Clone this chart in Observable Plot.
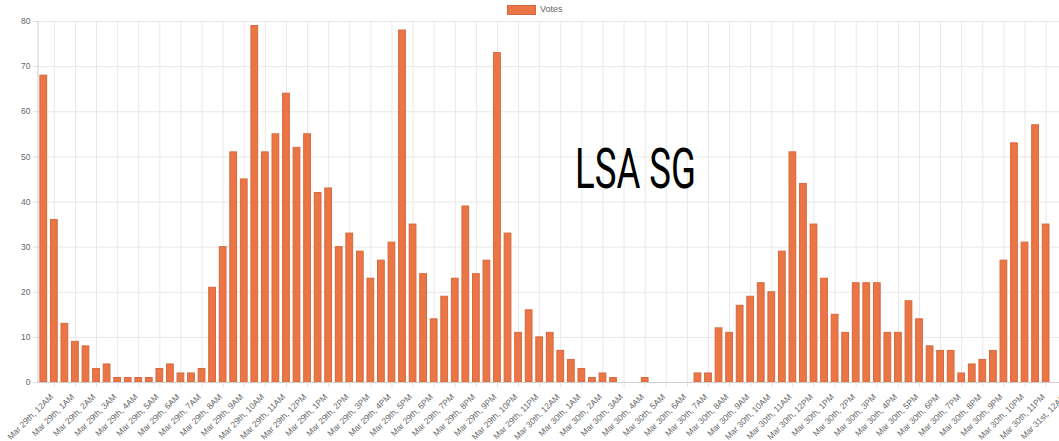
<!DOCTYPE html>
<html>
<head>
<meta charset="utf-8">
<script src="https://cdn.jsdelivr.net/npm/d3@7"></script>
<script src="https://cdn.jsdelivr.net/npm/@observablehq/plot@0.6"></script>
<style>
  html, body { margin: 0; padding: 0; background: #fff; overflow: hidden; }
  #legend { position: relative; height: 16px; width: 1059px; font-family: 'Liberation Sans', Arial, sans-serif; }
  #legend .sw { position: absolute; left: 507px; top: 5px; width: 27px; height: 8px; background: #EB7545; border: 1px solid #D4693F; }
  #legend .lb { position: absolute; left: 540px; top: 4px; font-size: 9px; line-height: 11px; color: #666; }
</style>
</head>
<body>
<div id="legend"><div class="sw"></div><div class="lb">Votes</div></div>
<div id="chart"></div>
<script>
const seriesName = "Votes";
const tickLabels = [
  "Mar 29th, 12AM", "Mar 29th, 1AM", "Mar 29th, 2AM", "Mar 29th, 3AM", "Mar 29th, 4AM", "Mar 29th, 5AM",
  "Mar 29th, 6AM", "Mar 29th, 7AM", "Mar 29th, 8AM", "Mar 29th, 9AM", "Mar 29th, 10AM", "Mar 29th, 11AM",
  "Mar 29th, 12PM", "Mar 29th, 1PM", "Mar 29th, 2PM", "Mar 29th, 3PM", "Mar 29th, 4PM", "Mar 29th, 5PM",
  "Mar 29th, 6PM", "Mar 29th, 7PM", "Mar 29th, 8PM", "Mar 29th, 9PM", "Mar 29th, 10PM", "Mar 29th, 11PM",
  "Mar 30th, 12AM", "Mar 30th, 1AM", "Mar 30th, 2AM", "Mar 30th, 3AM", "Mar 30th, 4AM", "Mar 30th, 5AM",
  "Mar 30th, 6AM", "Mar 30th, 7AM", "Mar 30th, 8AM", "Mar 30th, 9AM", "Mar 30th, 10AM", "Mar 30th, 11AM",
  "Mar 30th, 12PM", "Mar 30th, 1PM", "Mar 30th, 2PM", "Mar 30th, 3PM", "Mar 30th, 4PM", "Mar 30th, 5PM",
  "Mar 30th, 6PM", "Mar 30th, 7PM", "Mar 30th, 8PM", "Mar 30th, 9PM", "Mar 30th, 10PM", "Mar 30th, 11PM",
  "Mar 31st, 12AM"
];
// half-hour slots: one before the first tick, then each hour and its half hour
const slots = ["Mar 28th, 11:30PM"].concat(
  tickLabels.flatMap((t, i) => i < tickLabels.length - 1 ? [t, t.replace(/(AM|PM)$/, ":30$1")] : [t])
);
const votes = [
  68, 36, 13, 9, 8, 3, 4, 1, 1, 1, 1, 3, 4, 2, 2, 3, 21, 30, 51, 45, 79, 51, 55, 64, 52, 55, 42, 43, 30, 33, 29,
  23, 27, 31, 78, 35, 24, 14, 19, 23, 39, 24, 27, 73, 33, 11, 16, 10, 11, 7, 5, 3, 1, 2, 1, 0, 0, 1, 0, 0, 0, 0, 2, 2,
  12, 11, 17, 19, 22, 20, 29, 51, 44, 35, 23, 15, 11, 22, 22, 22, 11, 11, 18, 14, 8, 7, 7, 2, 4, 5, 7, 27, 53, 31, 57, 35
];
const yTicks = [0, 10, 20, 30, 40, 50, 60, 70, 80];
const watermark = "LSA SG";

const data = votes.map((v, i) => ({slot: slots[i], votes: v}));

const chart = Plot.plot({
  width: 1075,
  height: 425,
  marginLeft: 38,
  marginRight: 3,
  marginTop: 5,
  marginBottom: 59,
  style: {maxWidth: "none", fontFamily: "'Liberation Sans', Arial, sans-serif", fontSize: "8.5px", background: "white"},
  x: {type: "band", domain: slots, paddingInner: 0.36, paddingOuter: 0.18},
  y: {domain: [0, 80]},
  marks: [
    Plot.gridY({ticks: yTicks, stroke: "#e8e8e8", strokeOpacity: 1}),
    Plot.gridX({ticks: tickLabels, stroke: "#e8e8e8", strokeOpacity: 1}),
    Plot.barY(data, {x: "slot", y: "votes", fill: "#EB7545", stroke: "#D4693F", strokeWidth: 1}),
    Plot.ruleY([0], {stroke: "#cfcfcf"}),
    Plot.axisY({ticks: yTicks, tickSize: 5, tickPadding: 3, stroke: "#e0e0e0", fill: "#666", label: null}),
    Plot.axisX({ticks: tickLabels, tickSize: 5, stroke: "#e0e0e0", tickFormat: () => "", label: null}),
    Plot.axisX({ticks: tickLabels, tickSize: 0, tickPadding: 13, tickRotate: -45, dx: -2.5, fill: "#666", label: null})
  ]
});
document.getElementById("chart").appendChild(chart);

const svg = d3.select(chart);
const xr = chart.scale("x").range;
const yr = chart.scale("y").range;
svg.append("line")
  .attr("x1", xr[0]).attr("x2", xr[0])
  .attr("y1", Math.min(...yr)).attr("y2", Math.max(...yr))
  .attr("stroke", "#cfcfcf");
svg.append("text")
  .text(watermark)
  .attr("x", 575)
  .attr("y", 172)
  .attr("text-anchor", "start")
  .attr("font-family", "Roboto, 'Liberation Sans', sans-serif")
  .attr("font-weight", 400)
  .attr("font-size", 56)
  .attr("textLength", 121)
  .attr("lengthAdjust", "spacingAndGlyphs")
  .attr("fill", "#000");
</script>
</body>
</html>
